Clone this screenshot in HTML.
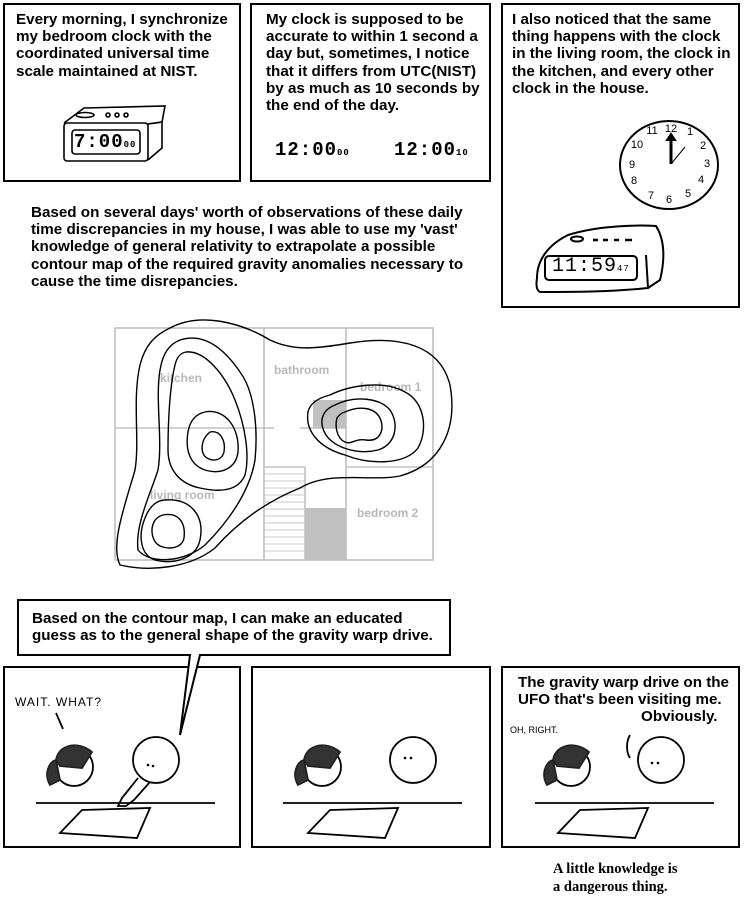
<!DOCTYPE html>
<html><head><meta charset="utf-8"><style>
body{margin:0;background:#fff;width:744px;height:910px;overflow:hidden;position:relative}
.t{position:absolute;font-family:"Liberation Sans",Arial,sans-serif;font-weight:bold;font-size:15.2px;line-height:17.2px;color:#000;white-space:nowrap}
svg{position:absolute;left:0;top:0}
</style></head><body>
<svg width="744" height="910" viewBox="0 0 744 910" fill="none" stroke="#000">
<g stroke-width="2">
<rect x="4" y="4" width="236" height="177"/>
<rect x="251" y="4" width="239" height="177"/>
<rect x="502" y="4" width="237" height="303"/>
<rect x="4" y="667" width="236" height="180"/>
<rect x="252" y="667" width="238" height="180"/>
<rect x="502" y="667" width="237" height="180"/>
</g>
<path d="M18 600 H450 V655 H200 L180 735 L190 655 H18 Z" fill="#fff" stroke-width="2"/>
<g stroke-width="1.6">
<path d="M64 123 L84 108 L165 106 L162 122 L148 124"/>
<rect x="64" y="123" width="84" height="38" rx="3"/>
<path d="M148 124 L162 122 L162 148 L148 160"/>
<rect x="72" y="130" width="68" height="24" rx="3"/>
<ellipse cx="85" cy="115" rx="9" ry="2.5"/>
<circle cx="108" cy="115" r="2"/><circle cx="117" cy="115" r="2"/><circle cx="126" cy="115" r="2"/>
</g>
<g stroke-width="2">
<ellipse cx="669" cy="165" rx="49" ry="44"/>
<line x1="671" y1="164" x2="671" y2="136" stroke-width="3"/>
<path d="M667 140 L671 134 L675 140 Z" fill="#000"/>
<line x1="671" y1="164" x2="685" y2="147" stroke-width="1"/>
</g>
<g font-family="Comic Sans MS,Liberation Sans,sans-serif" font-size="11" fill="#000" stroke="none" text-anchor="middle">
<text x="671" y="132">12</text><text x="690" y="135">1</text><text x="703" y="149">2</text><text x="707" y="167">3</text><text x="701" y="183">4</text><text x="688" y="197">5</text><text x="669" y="203">6</text><text x="651" y="199">7</text><text x="634" y="184">8</text><text x="632" y="168">9</text><text x="637" y="148">10</text><text x="652" y="134">11</text>
</g>
<g stroke-width="2">
<path d="M537 278 C537 260 548 245 568 235 C600 225 640 225 656 226 C665 240 665 260 660 280 L648 288 C610 292 570 292 540 292 C536 290 536 284 537 278 Z"/>
<rect x="545" y="256" width="92" height="24" rx="4"/>
<path d="M646 255 L648 288"/>
<ellipse cx="577" cy="239" rx="6" ry="2.5"/>
<path d="M593 240 H598 M603 240 H608 M614 240 H619 M625 240 H632" stroke-width="2.5"/>
</g>
<g stroke="#c0c0c0" stroke-width="1.6">
<rect x="115" y="328" width="318" height="232"/>
<line x1="264" y1="328" x2="264" y2="560"/>
<line x1="346" y1="328" x2="346" y2="560"/>
<line x1="115" y1="428" x2="274" y2="428"/>
<line x1="300" y1="428" x2="346" y2="428"/>
<line x1="346" y1="467" x2="433" y2="467"/>
<line x1="305" y1="467" x2="305" y2="560"/>
<line x1="264" y1="467" x2="305" y2="467"/>
</g>
<g stroke="#c8c8c8" stroke-width="1">
<line x1="264" y1="474" x2="305" y2="474"/><line x1="264" y1="481" x2="305" y2="481"/><line x1="264" y1="488" x2="305" y2="488"/><line x1="264" y1="495" x2="305" y2="495"/><line x1="264" y1="502" x2="305" y2="502"/><line x1="264" y1="509" x2="305" y2="509"/><line x1="264" y1="516" x2="305" y2="516"/><line x1="264" y1="523" x2="305" y2="523"/><line x1="264" y1="530" x2="305" y2="530"/><line x1="264" y1="537" x2="305" y2="537"/><line x1="264" y1="544" x2="305" y2="544"/><line x1="264" y1="551" x2="305" y2="551"/>
</g>
<rect x="313" y="400" width="33" height="28" fill="#c0c0c0" stroke="none"/>
<rect x="305" y="508" width="41" height="52" fill="#c0c0c0" stroke="none"/>
<g font-family="Liberation Sans,sans-serif" font-weight="bold" font-size="12" fill="#b8b8b8" stroke="none">
<text x="160" y="382">kitchen</text><text x="274" y="374">bathroom</text><text x="360" y="391">bedroom 1</text><text x="150" y="499">living room</text><text x="357" y="517">bedroom 2</text>
</g>
<g stroke-width="1.4" stroke-linejoin="round">
<path d="M170 328 C200 312 240 322 270 340 C295 352 320 348 350 343 C400 335 440 345 450 385 C458 430 440 465 400 476 C370 482 330 470 300 488 C270 500 240 520 215 548 C190 568 150 572 120 565 C110 545 125 505 135 470 C140 440 132 400 140 365 C145 345 155 335 170 328 Z"/>
<path d="M180 340 C205 332 225 350 240 372 C255 392 258 430 255 460 C250 490 230 520 205 545 C185 562 150 565 138 550 C135 525 150 495 158 470 C163 440 155 400 160 370 C163 352 170 344 180 340 Z"/>
<path d="M186 352 C205 350 225 375 235 400 C245 425 250 455 245 475 C238 492 218 492 200 488 C180 484 168 470 168 450 C168 420 170 385 175 365 C177 356 181 353 186 352 Z"/>
<path d="M205 412 C225 408 240 428 238 452 C236 468 222 475 205 470 C190 465 185 450 188 432 C190 420 196 414 205 412 Z"/>
<path d="M210 432 C220 430 226 440 224 452 C222 460 214 462 207 458 C200 454 200 440 210 432 Z"/>
<path d="M165 500 C190 498 205 515 200 540 C196 558 175 565 155 560 C140 555 138 535 145 518 C150 505 158 500 165 500 Z"/>
<path d="M163 515 C178 512 186 522 184 538 C182 548 170 550 160 546 C152 542 150 530 154 522 C156 518 159 516 163 515 Z"/>
<path d="M330 395 C350 385 385 380 405 392 C425 402 428 430 418 448 C405 465 370 465 345 455 C320 448 305 432 308 412 C310 403 318 398 330 395 Z"/>
<path d="M335 405 C355 395 380 398 390 410 C400 425 395 445 378 450 C358 455 335 448 326 435 C318 422 322 410 335 405 Z"/>
<path d="M345 412 C360 405 375 408 380 418 C385 430 380 442 366 440 C355 438 352 445 345 442 C336 438 335 425 337 418 C339 415 341 413 345 412 Z"/>
</g>
<g stroke-width="1.8">
<line x1="36" y1="803" x2="215" y2="803"/>
<path d="M82 810 L150 808 L137 838 L60 833 Z"/>
<circle cx="156" cy="760" r="23" fill="#fff"/>
<path d="M138 778 L122 798 L118 806 L126 806 L134 800 L150 782"/>
<circle cx="74" cy="767" r="19" fill="#fff"/>
<path d="M56 760 C58 745 78 740 92 752 L82 768 L60 766 Z M56 760 C48 762 44 775 50 785 L60 780 Z" fill="#333" stroke="#222"/>
<line x1="56" y1="713" x2="63" y2="729"/>
<line x1="283" y1="803" x2="462" y2="803"/>
<path d="M330 810 L398 808 L385 838 L308 833 Z"/>
<circle cx="413" cy="760" r="23" fill="#fff"/>
<circle cx="322" cy="767" r="19" fill="#fff"/>
<path d="M304 760 C306 745 326 740 340 752 L330 768 L308 766 Z M304 760 C296 762 292 775 298 785 L308 780 Z" fill="#333" stroke="#222"/>
<line x1="535" y1="803" x2="714" y2="803"/>
<path d="M580 810 L648 808 L635 838 L558 833 Z"/>
<circle cx="661" cy="760" r="23" fill="#fff"/>
<circle cx="571" cy="767" r="19" fill="#fff"/>
<path d="M553 760 C555 745 575 740 589 752 L579 768 L557 766 Z M553 760 C545 762 541 775 547 785 L557 780 Z" fill="#333" stroke="#222"/>
<path d="M630 735 C626 742 626 752 630 758"/>
</g>
<g fill="#000" stroke="none">
<circle cx="148" cy="765" r="1.3"/><circle cx="153" cy="766" r="1.3"/>
<circle cx="405" cy="758" r="1.3"/><circle cx="411" cy="758" r="1.3"/>
<circle cx="652" cy="763" r="1.3"/><circle cx="658" cy="763" r="1.3"/>
</g>
<g font-family="Comic Sans MS,Liberation Sans,sans-serif" font-size="12" fill="#000" stroke="none">
<text x="15" y="706" letter-spacing="1">WAIT. WHAT?</text>
<text x="510" y="733" font-size="9">OH, RIGHT.</text>
</g>
</svg>
<div class="t" style="left:16px;top:11px">Every morning, I synchronize<br>my bedroom clock with the<br>coordinated universal time<br>scale maintained at NIST.</div>
<div class="t" style="left:266px;top:11px">My clock is supposed to be<br>accurate to within 1 second a<br>day but, sometimes, I notice<br>that it differs from UTC(NIST)<br>by as much as 10 seconds by<br>the end of the day.</div>
<div class="t" style="left:512px;top:11px">I also noticed that the same<br>thing happens with the clock<br>in the living room, the clock in<br>the kitchen, and every other<br>clock in the house.</div>
<div class="t" style="left:31px;top:204px">Based on several days' worth of observations of these daily<br>time discrepancies in my house, I was able to use my 'vast'<br>knowledge of general relativity to extrapolate a possible<br>contour map of the required gravity anomalies necessary to<br>cause the time disrepancies.</div>
<div class="t" style="left:32px;top:610px">Based on the contour map, I can make an educated<br>guess as to the general shape of the gravity warp drive.</div>
<div class="t" style="left:518px;top:674px">The gravity warp drive on the<br>UFO that's been visiting me.</div>
<div class="t" style="left:641px;top:708px">Obviously.</div>
<div class="t" style="left:74px;top:134px;font-family:'Liberation Mono',monospace;font-size:19px;letter-spacing:1px">7:00<span style="font-size:9px">00</span></div>
<div class="t" style="left:275px;top:142px;font-family:'Liberation Mono',monospace;font-size:19px;letter-spacing:1px">12:00<span style="font-size:9px">00</span></div>
<div class="t" style="left:394px;top:142px;font-family:'Liberation Mono',monospace;font-size:19px;letter-spacing:1px">12:00<span style="font-size:9px">10</span></div>
<div class="t" style="left:552px;top:258px;font-weight:normal;font-family:'Liberation Mono',monospace;font-size:20px;letter-spacing:1px">11:59<span style="font-size:9px">47</span></div>
<div class="t" style="left:553px;top:860px;font-family:'Liberation Serif',serif;font-size:14.5px;line-height:18px">A little knowledge is<br>a dangerous thing.</div>
</body></html>
